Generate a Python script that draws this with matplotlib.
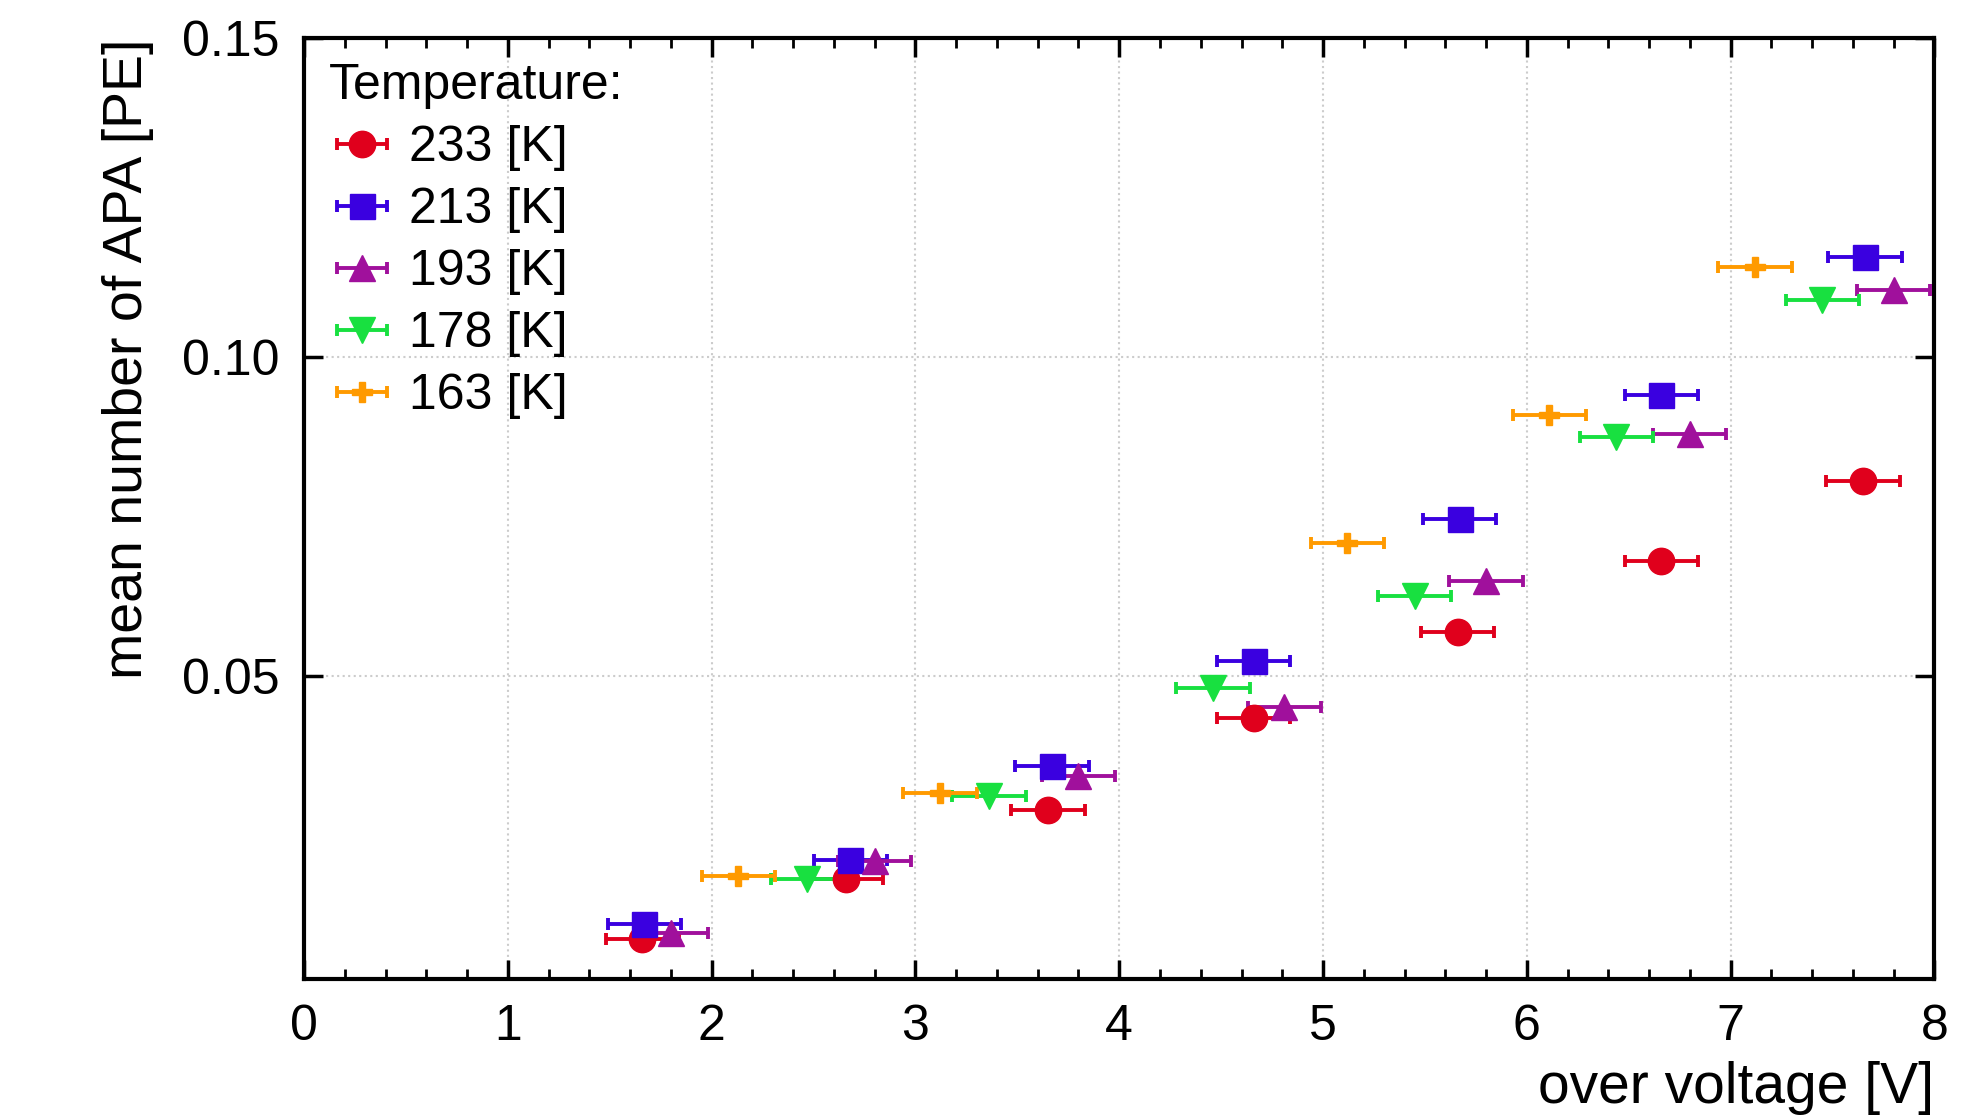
import matplotlib

matplotlib.use("Agg")
import matplotlib.pyplot as plt
from matplotlib.ticker import MultipleLocator

plt.rcParams["font.family"] = ["Liberation Sans", "DejaVu Sans"]

# over voltage [V] and mean APA [PE] per temperature
labels = ["233 [K]", "213 [K]", "193 [K]", "178 [K]", "163 [K]"]

ov_233 = [1.66, 2.66, 3.65, 4.66, 5.66, 6.66, 7.65]
apa_233 = [0.0089, 0.0183, 0.0290, 0.0435, 0.0569, 0.0681, 0.0806]

ov_213 = [1.67, 2.68, 3.67, 4.66, 5.67, 6.66, 7.66]
apa_213 = [0.0111, 0.0212, 0.0359, 0.0524, 0.0746, 0.0940, 0.1157]

ov_193 = [1.80, 2.80, 3.80, 4.81, 5.80, 6.80, 7.80]
apa_193 = [0.0097, 0.0210, 0.0343, 0.0452, 0.0649, 0.0879, 0.1105]

ov_178 = [2.47, 3.36, 4.46, 5.45, 6.44, 7.45]
apa_178 = [0.0183, 0.0313, 0.0482, 0.0625, 0.0875, 0.1090]

ov_163 = [2.13, 3.12, 5.12, 6.11, 7.12]
apa_163 = [0.0187, 0.0317, 0.0708, 0.0909, 0.1141]

ov_err = 0.18

series = [
    (ov_233, apa_233, "#e0001c", "o", 19),
    (ov_213, apa_213, "#3a00e0", "s", 18),
    (ov_193, apa_193, "#a0109c", "^", 19),
    (ov_178, apa_178, "#18e040", "v", 19),
    (ov_163, apa_163, "#ff9a00", "P", 15),
]

fig = plt.figure(figsize=(19.88, 11.18), dpi=100)
ax = fig.add_axes([0.153, 0.124, 0.820, 0.842])

for (x, y, color, marker, size), label in zip(series, labels):
    ax.errorbar(
        x,
        y,
        xerr=ov_err,
        fmt=marker,
        color=color,
        markersize=size,
        elinewidth=2.8,
        capsize=4,
        capthick=2.8,
        label=label,
        zorder=3,
    )

ax.set_xlim(0, 8)
ax.set_ylim(0.0025, 0.15)
ax.xaxis.set_major_locator(MultipleLocator(1))
ax.xaxis.set_minor_locator(MultipleLocator(0.2))
ax.yaxis.set_major_locator(MultipleLocator(0.05))
ax.yaxis.set_major_formatter(plt.FuncFormatter(lambda v, _: f"{v:.2f}"))

ax.tick_params(which="both", direction="in", top=True, right=True, labelsize=36)
ax.tick_params(which="major", length=14, width=2.5, pad=18)
ax.tick_params(which="minor", length=7, width=2)
for spine in ax.spines.values():
    spine.set_linewidth(3)

ax.grid(which="major", color="#cccccc", linestyle=":", linewidth=1.5)

ax.set_xlabel("over voltage [V]", fontsize=41, loc="right", labelpad=8)
ax.set_ylabel("mean number of APA [PE]", fontsize=40, loc="top", labelpad=20)

leg = ax.legend(
    title="Temperature:",
    loc="upper left",
    frameon=False,
    fontsize=36,
    title_fontsize=36,
    handlelength=1.3,
    handletextpad=0.3,
    labelspacing=0.32,
    borderaxespad=0.1,
)
leg._legend_box.align = "left"

fig.savefig("out.png", dpi=100)
